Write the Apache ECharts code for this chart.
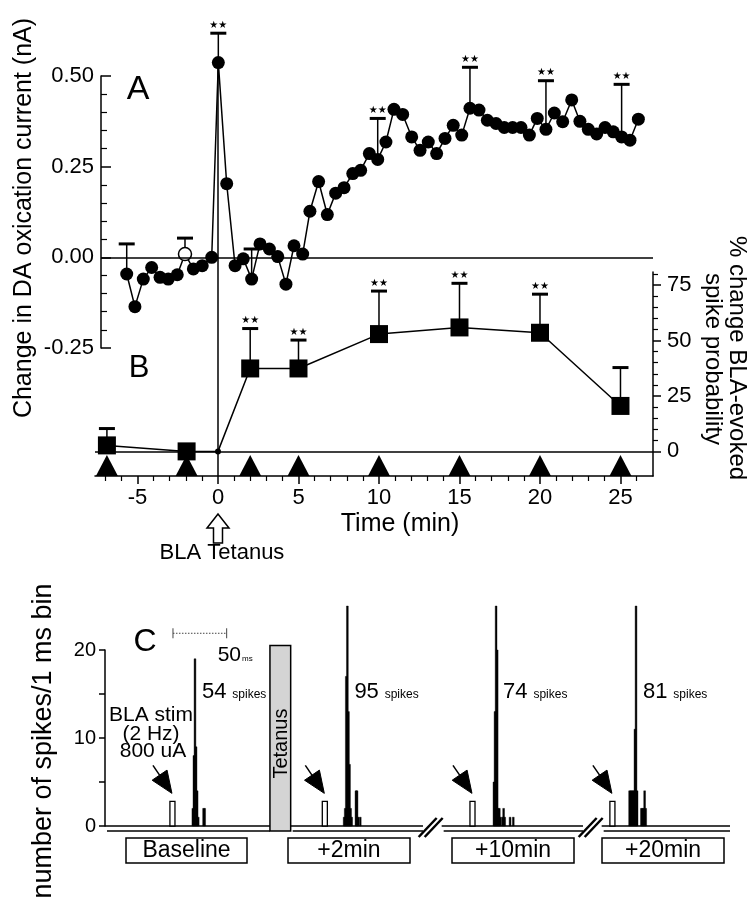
<!DOCTYPE html>
<html><head><meta charset="utf-8">
<script src="https://cdn.jsdelivr.net/npm/echarts@6/dist/echarts.min.js"></script>
<style>html,body{margin:0;padding:0;background:#fff}#c{width:751px;height:900px}</style>
</head><body><div id="c"></div>
<script>
// ---------- Panel A: change in DA oxidation current (nA) ----------
const timeA = [-5.67,-5.16,-4.64,-4.12,-3.60,-3.09,-2.53,-2.05,-1.53,-0.98,-0.39,0.02,0.54,1.06,1.57,2.09,2.61,3.19,3.71,4.22,4.72,5.26,5.71,6.25,6.79,7.31,7.83,8.37,8.86,9.40,9.92,10.43,10.93,11.47,12.03,12.55,13.06,13.58,14.10,14.61,15.14,15.65,16.21,16.73,17.27,17.78,18.30,18.82,19.34,19.83,20.37,20.89,21.41,21.97,22.48,23.00,23.52,24.04,24.55,25.07,25.59,26.11];
const currentA = [-0.046,-0.136,-0.060,-0.028,-0.055,-0.060,-0.048,0.009,-0.032,-0.023,0.000,0.537,0.203,-0.023,-0.004,-0.060,0.037,0.023,0.002,-0.074,0.032,0.009,0.127,0.209,0.118,0.177,0.192,0.231,0.240,0.286,0.270,0.318,0.408,0.394,0.332,0.295,0.318,0.286,0.328,0.364,0.337,0.411,0.406,0.378,0.369,0.358,0.358,0.358,0.337,0.383,0.353,0.398,0.374,0.434,0.375,0.353,0.340,0.358,0.346,0.332,0.323,0.381];
const openPointIndex = 7;
const errAIndex = [0, 7, 11, 15, 30, 41, 50, 59];
const errATop = [0.037, 0.053, 0.618, 0.023, 0.383, 0.524, 0.487, 0.477];
const errASig = [0, 0, 1, 0, 1, 1, 1, 1];

// ---------- Panel B: % change BLA-evoked spike probability ----------
const timeB = [-6.9, -1.95, 0, 2, 5, 10, 15, 20, 25];
const changeB = [2.7, 0, 0, 37.4, 37.4, 52.9, 55.9, 53.5, 20.5];
const errBTop = [10.3, null, null, 55.4, 50.2, 72.3, 75.8, 70.9, 37.8];
const errBSig = [0, 0, 0, 1, 1, 1, 1, 1, 0];
const sampleTimes = [-6.9, -1.95, 2, 5, 10, 15, 20, 25];

const xMajorTicks = [-5, 0, 5, 10, 15, 20, 25];
const xMinorTicks = [-7,-6,-4,-3,-2,-1,1,2,3,4,6,7,8,9,11,12,13,14,16,17,18,19,21,22,23,24,26];
const bMajorTicks = [0, 25, 50, 75];
const bMinorTicks = [5,10,15,20,30,35,40,45,55,60,65,70,80];

// ---------- Panel C: peri-stimulus histograms (1 ms bins) ----------
const segmentNames = ['Baseline', '+2min', '+10min', '+20min'];
const spikeTotals = [54, 95, 74, 81];
const stimOnset = [62.8, 204.7, 342.2, 472.5];   // ms along the displayed (broken) time line
const stimHeight = 2.8;
const stimWidth = 4.7;
const histBaseline = [[19,2],[20,8],[21,19],[22,9],[23,4],[24,1],[29,2],[30,2]];
const hist2min = [[18,1],[19,2],[20,17],[21,25],[22,13],[23,7],[24,2],[25,1],[29,4],[30,4],[31,1],[33,1]];
const hist10min = [[20,5],[21,13],[22,25],[23,20],[24,2],[25,2],[26,1],[28,1],[29,2],[30,1],[35,1],[38,1]];
const hist20min = [[16,4],[17,4],[18,4],[19,4],[20,4],[21,11],[22,25],[23,4],[27,2],[28,2],[29,2],[30,4],[31,2]];
const histograms = [histBaseline, hist2min, hist10min, hist20min];
const tetanusSpan = [153.6, 172.9, 20.5];
const axisSegments = [[0, 153.6], [172.9, 296.1], [313.5, 445.1], [462.5, 582]];
const scaleBar = [63.3, 50, 21.9];   // start ms, length ms, level
const spikeLabelLevel = 15.2;

// ---------- build ----------
const FONT = '"Liberation Sans", Arial, Helvetica, sans-serif';
const BLACK = '#000';
const axLine = {color: BLACK, width: 1.5};
const chart = echarts.init(document.getElementById('c'));

const histAll = [];
histograms.forEach((h, i) => h.forEach(b => histAll.push([stimOnset[i] + b[0], b[1]])));

function errRender(params, api) {
  const p = api.coord([api.value(0), api.value(1)]);
  const q = api.coord([api.value(0), api.value(2)]);
  const ch = [
    {type: 'line', shape: {x1: p[0], y1: p[1], x2: q[0], y2: q[1]}, style: {stroke: BLACK, lineWidth: 1.5}},
    {type: 'line', shape: {x1: q[0] - 8, y1: q[1], x2: q[0] + 8, y2: q[1]}, style: {stroke: BLACK, lineWidth: 3}}
  ];
  if (api.value(3)) ch.push({type: 'text', x: q[0], y: q[1] - 8,
    style: {text: '\u2605\u2605', fill: BLACK, font: '10px "DejaVu Sans"', textAlign: 'center', textVerticalAlign: 'middle', align: 'center', verticalAlign: 'middle'}});
  return {type: 'group', children: ch};
}

const option = {
  animation: false,
  backgroundColor: '#fff',
  grid: [
    {left: 101, right: 98, top: 76, height: 272, containLabel: false, outerBoundsMode: 'none'},
    {left: 95, right: 98, top: 272, height: 204, containLabel: false, outerBoundsMode: 'none'},
    {left: 105, right: 21, top: 650, height: 176, containLabel: false, outerBoundsMode: 'none'}
  ],
  xAxis: [
    {gridIndex: 0, type: 'value', min: -7.267, max: 27.019, show: false, splitLine: {show: false}},
    {gridIndex: 1, type: 'value', min: -7.64, max: 27.02, position: 'bottom',
      axisLine: {show: true, onZero: false, lineStyle: axLine},
      axisTick: {show: true, inside: false, length: 8, customValues: xMajorTicks, lineStyle: axLine},
      axisLabel: {show: true, customValues: xMajorTicks, color: BLACK, fontSize: 22, fontFamily: FONT, margin: 11},
      splitLine: {show: false}},
    {gridIndex: 1, type: 'value', min: -7.64, max: 27.02, position: 'bottom',
      axisLine: {show: false, onZero: false},
      axisTick: {show: true, inside: false, length: 5, customValues: xMinorTicks, lineStyle: {color: BLACK, width: 1.2}},
      axisLabel: {show: false}, splitLine: {show: false}},
    {gridIndex: 2, type: 'value', min: 0, max: 582, show: false, splitLine: {show: false}}
  ],
  yAxis: [
    {gridIndex: 0, type: 'value', min: -0.25, max: 0.5, interval: 0.25, position: 'left',
      axisLine: {show: true, onZero: false, lineStyle: axLine},
      axisTick: {show: true, inside: true, length: 10, lineStyle: axLine},
      minorTick: {show: true, splitNumber: 5, length: 6, lineStyle: {color: BLACK, width: 1.2}},
      axisLabel: {formatter: v => v.toFixed(2), color: BLACK, fontSize: 22, fontFamily: FONT, margin: 7},
      splitLine: {show: false}, minorSplitLine: {show: false}},
    {gridIndex: 1, type: 'value', min: -11.1, max: 80.9, position: 'right',
      axisLine: {show: true, onZero: false, lineStyle: axLine},
      axisTick: {show: true, inside: false, length: 8, customValues: bMajorTicks, lineStyle: axLine},
      axisLabel: {show: true, customValues: bMajorTicks, color: BLACK, fontSize: 22, fontFamily: FONT, margin: 14},
      splitLine: {show: false}},
    {gridIndex: 1, type: 'value', min: -11.1, max: 80.9, position: 'right',
      axisLine: {show: false, onZero: false},
      axisTick: {show: true, inside: false, length: 5, customValues: bMinorTicks, lineStyle: {color: BLACK, width: 1.2}},
      axisLabel: {show: false}, splitLine: {show: false}},
    {gridIndex: 2, type: 'value', min: 0, max: 20, interval: 5, position: 'left',
      axisLine: {show: true, onZero: false, lineStyle: axLine},
      axisTick: {show: true, inside: false, length: 6, lineStyle: axLine},
      axisLabel: {formatter: v => (v % 10 === 0 ? String(v) : ''), color: BLACK, fontSize: 20, fontFamily: FONT, margin: 9},
      splitLine: {show: false}}
  ],
  series: [
    { // 0: panel A trace
      type: 'line', xAxisIndex: 0, yAxisIndex: 0, clip: false, z: 4,
      data: timeA.map((t, i) => i === openPointIndex
        ? {value: [t, currentA[i]], itemStyle: {color: '#fff', borderColor: BLACK, borderWidth: 1.5}}
        : {value: [t, currentA[i]]}),
      symbol: 'circle', symbolSize: 13, showSymbol: true,
      itemStyle: {color: BLACK, borderWidth: 0, opacity: 1},
      lineStyle: {color: BLACK, width: 1.5},
      emphasis: {disabled: true},
      markLine: {silent: true, symbol: 'none', label: {show: false}, animation: false,
        lineStyle: {color: BLACK, width: 1.5, type: 'solid'}, data: [{yAxis: 0}]}
    },
    { // 1: panel A error bars
      type: 'custom', xAxisIndex: 0, yAxisIndex: 0, clip: false, z: 2,
      data: errAIndex.map((idx, k) => [timeA[idx], currentA[idx], errATop[k], errASig[k]]),
      renderItem: errRender
    },
    { // 2: panel B trace
      type: 'line', xAxisIndex: 1, yAxisIndex: 1, clip: false, z: 4,
      data: timeB.map((t, i) => ({value: [t, changeB[i]], symbol: t === 0 ? 'circle' : 'rect', symbolSize: t === 0 ? 6 : 18})),
      itemStyle: {color: BLACK, borderWidth: 0, opacity: 1},
      lineStyle: {color: BLACK, width: 1.5},
      emphasis: {disabled: true},
      markLine: {silent: true, symbol: 'none', label: {show: false}, animation: false,
        lineStyle: {color: BLACK, width: 1.5, type: 'solid'}, data: [{yAxis: 0}]}
    },
    { // 3: panel B error bars
      type: 'custom', xAxisIndex: 1, yAxisIndex: 1, clip: false, z: 2,
      data: timeB.map((t, i) => [t, changeB[i], errBTop[i], errBSig[i]]).filter(d => d[2] !== null),
      renderItem: errRender
    },
    { // 4: sampling time triangles on the time axis
      type: 'scatter', xAxisIndex: 1, yAxisIndex: 1, clip: false, z: 5,
      data: sampleTimes.map(t => [t, -11.1]),
      symbol: 'triangle', symbolSize: [22, 21], symbolOffset: [0, '-50%'],
      itemStyle: {color: BLACK, opacity: 1}, emphasis: {disabled: true}
    },
    { // 5: tetanus block
      type: 'custom', xAxisIndex: 3, yAxisIndex: 3, clip: false, z: 3,
      data: [tetanusSpan],
      renderItem: (params, api) => {
        const a = api.coord([api.value(0), api.value(2)]);
        const b = api.coord([api.value(1), 0]);
        return {type: 'group', children: [
          {type: 'rect', shape: {x: a[0], y: a[1], width: b[0] - a[0], height: b[1] + 5 - a[1]},
            style: {fill: '#d4d4d4', stroke: BLACK, lineWidth: 1.5}},
          {type: 'text', x: (a[0] + b[0]) / 2 + 1, y: a[1] + 98, rotation: Math.PI / 2,
            style: {text: 'Tetanus', fill: BLACK, font: '20px ' + FONT, textAlign: 'center', textVerticalAlign: 'middle', align: 'center', verticalAlign: 'middle'}}
        ]};
      }
    },
    { // 6: broken double time line
      type: 'custom', xAxisIndex: 3, yAxisIndex: 3, clip: false, z: 2,
      data: axisSegments.map((s, i) => [s[0], s[1], i]),
      renderItem: (params, api) => {
        const a = api.coord([api.value(0), 0]);
        const b = api.coord([api.value(1), 0]);
        const ch = [
          {type: 'line', shape: {x1: a[0], y1: a[1], x2: b[0], y2: b[1]}, style: {stroke: BLACK, lineWidth: 1.5}},
          {type: 'line', shape: {x1: a[0] + 2, y1: a[1] + 5, x2: b[0], y2: b[1] + 5}, style: {stroke: BLACK, lineWidth: 1.5}}
        ];
        if (api.value(2) >= 2) {
          [0, 6].forEach(o => ch.push({type: 'line',
            shape: {x1: a[0] - 23 + o, y1: a[1] + 11, x2: a[0] - 5 + o, y2: a[1] - 8},
            style: {stroke: BLACK, lineWidth: 2.5}}));
        }
        return {type: 'group', children: ch};
      }
    },
    { // 7: stimulus artefact boxes
      type: 'custom', xAxisIndex: 3, yAxisIndex: 3, clip: false, z: 3,
      data: stimOnset.map(x => [x, stimHeight]),
      renderItem: (params, api) => {
        const a = api.coord([api.value(0) - stimWidth / 2, api.value(1)]);
        const b = api.coord([api.value(0) + stimWidth / 2, 0]);
        return {type: 'rect', shape: {x: a[0], y: a[1], width: b[0] - a[0], height: b[1] - a[1]},
          style: {fill: '#fff', stroke: BLACK, lineWidth: 1.3}};
      }
    },
    { // 8: histogram bins
      type: 'custom', xAxisIndex: 3, yAxisIndex: 3, clip: false, z: 3,
      data: histAll,
      renderItem: (params, api) => {
        const a = api.coord([api.value(0) - 0.5, api.value(1)]);
        const b = api.coord([api.value(0) + 0.5, 0]);
        const w = Math.max(1.8, b[0] - a[0]);
        const cx = (a[0] + b[0]) / 2;
        return {type: 'rect', shape: {x: cx - w / 2, y: a[1], width: w, height: b[1] - a[1]},
          style: {fill: BLACK, stroke: BLACK, lineWidth: 0.4}};
      }
    }
  ]
};
chart.setOption(option);

// ---------- annotations (positions derived from the chart's scales) ----------
const P = (si, v) => chart.convertToPixel({seriesIndex: si}, v);
function txt(x, y, text, size, extra) {
  extra = extra || {};
  return {type: 'text', x: x, y: y, rotation: extra.rot || 0, z: 20,
    style: {text: text, fill: BLACK, font: size + 'px ' + FONT,
      textAlign: extra.align || 'center', textVerticalAlign: extra.va || 'middle',
      align: extra.align || 'center', verticalAlign: extra.va || 'middle', rich: extra.rich}};
}
const G = [];
// vertical tetanus line at t = 0
const peakIdx = currentA.indexOf(Math.max.apply(null, currentA));
const vTop = P(0, [timeA[peakIdx], currentA[peakIdx]]);
const vBot = P(2, [0, -11.1]);
G.push({type: 'line', z: 1, shape: {x1: vBot[0], y1: vTop[1], x2: vBot[0], y2: vBot[1]}, style: {stroke: BLACK, lineWidth: 1.5}});
// open arrow "BLA Tetanus"
const ax = vBot[0];
G.push({type: 'polygon', z: 20, shape: {points: [[ax, 514], [ax + 11, 528], [ax + 4.5, 528], [ax + 4.5, 543], [ax - 4.5, 543], [ax - 4.5, 528], [ax - 11, 528]]},
  style: {fill: '#fff', stroke: BLACK, lineWidth: 1.5}});
G.push(txt(ax + 4, 553, 'BLA Tetanus', 22));
G.push(txt(400, 524, 'Time (min)', 25));
G.push(txt(138, 90, 'A', 34));
G.push(txt(139, 368, 'B', 31));
G.push(txt(24, 218, 'Change in DA oxication current (nA)', 25, {rot: Math.PI / 2}));
G.push(txt(737, 358, '% change BLA-evoked', 24, {rot: -Math.PI / 2}));
G.push(txt(713, 359, 'spike probability', 24, {rot: -Math.PI / 2}));
// panel C texts
G.push(txt(145, 642, 'C', 32));
G.push(txt(44, 741, 'number of spikes/1 ms bin', 27, {rot: Math.PI / 2}));
G.push(txt(151, 715, 'BLA stim', 21));
G.push(txt(151, 734, '(2 Hz)', 21));
G.push(txt(153, 751, '800 uA', 21));
// scale bar
const sb0 = P(8, [scaleBar[0], scaleBar[2]]);
const sb1 = P(8, [scaleBar[0] + scaleBar[1], scaleBar[2]]);
G.push({type: 'line', z: 20, shape: {x1: sb0[0], y1: sb0[1], x2: sb1[0], y2: sb1[1]}, style: {stroke: '#444', lineWidth: 1, lineDash: [1.5, 1.5]}});
[sb0, sb1].forEach(p => G.push({type: 'line', z: 20, shape: {x1: p[0], y1: p[1] - 5, x2: p[0], y2: p[1] + 5}, style: {stroke: '#444', lineWidth: 1}}));
G.push(txt(sb1[0] - 9, sb1[1] + 22, '{n|50}{s|ms}', 20, {align: 'left', rich: {n: {fontSize: 21, fontFamily: FONT, fill: BLACK}, s: {fontSize: 8, fontFamily: FONT, fill: BLACK, padding: [8, 0, 0, 1]}}}));
// arrows, spike counts, segment boxes
const boxes = [[126, 247], [288, 410], [452, 574], [602, 724]];
stimOnset.forEach((s, i) => {
  const top = P(8, [s, stimHeight]);
  const tip = [top[0] - 0.5, top[1] - 8];
  const tail = [tip[0] - 19, tip[1] - 28];
  const dx = tip[0] - tail[0], dy = tip[1] - tail[1], len = Math.hypot(dx, dy);
  const d = [dx / len, dy / len], n = [-d[1], d[0]];
  const L = 22, W = 9;
  const base = [tip[0] - d[0] * L, tip[1] - d[1] * L];
  G.push({type: 'line', z: 20, shape: {x1: tail[0], y1: tail[1], x2: base[0], y2: base[1]}, style: {stroke: BLACK, lineWidth: 1.5}});
  G.push({type: 'polygon', z: 21, shape: {points: [
      [tip[0], tip[1]],
      [base[0] + n[0] * W, base[1] + n[1] * W],
      [base[0] - n[0] * W, base[1] - n[1] * W]]},
    style: {fill: BLACK, stroke: BLACK, lineWidth: 1}});
  const h = histograms[i];
  let pk = h[0];
  h.forEach(b => { if (b[1] > pk[1]) pk = b; });
  const lp = P(8, [s + pk[0], spikeLabelLevel]);
  G.push(txt(lp[0] + 7, lp[1], '{n|' + spikeTotals[i] + '} {s|spikes}', 21, {align: 'left',
    rich: {n: {fontSize: 22, fontFamily: FONT, fill: BLACK}, s: {fontSize: 12, fontFamily: FONT, fill: BLACK, padding: [4, 0, 0, 0]}}}));
  const bx = boxes[i];
  G.push({type: 'rect', z: 20, shape: {x: bx[0], y: 838, width: bx[1] - bx[0], height: 25}, style: {fill: '#fff', stroke: BLACK, lineWidth: 1.5}});
  G.push(txt((bx[0] + bx[1]) / 2, 851, segmentNames[i], 23));
});
chart.setOption({graphic: G});
</script>
</body></html>
